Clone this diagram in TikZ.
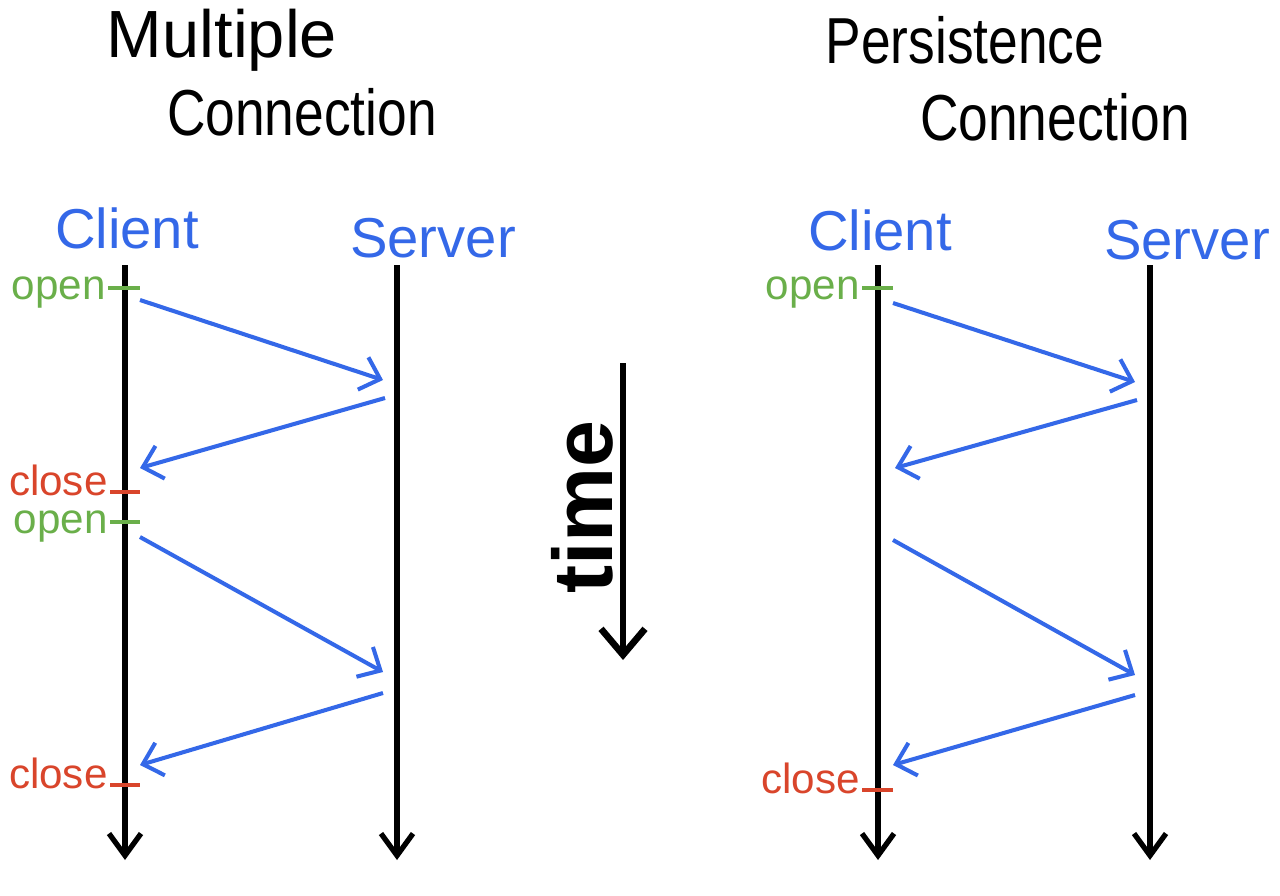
\documentclass[tikz,border=0pt]{standalone}
\usepackage{fontspec}
\setmainfont{Liberation Sans}
\newfontfamily\narrowfont[FakeStretch=0.82]{Liberation Sans}
\usetikzlibrary{arrows.meta}
\definecolor{msgblue}{RGB}{52,104,232}
\definecolor{opengreen}{RGB}{106,175,74}
\definecolor{closered}{RGB}{217,69,43}

\begin{document}
\begin{tikzpicture}[
		lifeline/.style={line width=1.5pt, -{Straight Barb[length=2.2mm, width=3.2mm, line width=1.5pt]}},
		msg/.style={draw=msgblue, line width=1.15pt, -{Straight Barb[length=1.8mm, width=3.4mm, line width=1.15pt]}},
		title/.style={font=\narrowfont\fontsize{18.5}{22}\selectfont},
		party/.style={text=msgblue, font=\fontsize{16}{19}\selectfont},
		tick/.style={line width=1.15pt},
		evlabel/.style={anchor=mid east, inner sep=0.5pt, font=\fontsize{12}{14}\selectfont},
		openlabel/.style={evlabel, text=opengreen, yshift=-0.5pt},
		closelabel/.style={evlabel, text=closered, yshift=1.6pt}
	]
		\useasboundingbox (0,0) rectangle (12.8,-8.95);

		% Titles
		\node[font=\fontsize{19}{22}\selectfont] (ttl1) at (2.22,-0.40) {Multiple};
		\node[title] (ttl2) at (3.02,-1.12) {Connection};
		\node[title] (ttr1) at (9.65,-0.40) {Persistence};
		\node[title] (ttr2) at (10.55,-1.17) {Connection};

		% Parties
		\node[party] (clientL) at (1.27,-2.28) {Client};
		\node[party] (serverL) at (4.33,-2.38) {Server};
		\node[party] (clientR) at (8.80,-2.30) {Client};
		\node[party] (serverR) at (11.87,-2.40) {Server};

		% Lifelines
		\coordinate (cLtop) at (1.25,-2.65);
		\coordinate (cLbot) at (1.25,-8.60);
		\coordinate (sLtop) at (3.97,-2.65);
		\coordinate (sLbot) at (3.97,-8.60);
		\coordinate (cRtop) at (8.78,-2.65);
		\coordinate (cRbot) at (8.78,-8.60);
		\coordinate (sRtop) at (11.50,-2.65);
		\coordinate (sRbot) at (11.50,-8.60);
		\draw[lifeline] (cLtop) -- (cLbot);
		\draw[lifeline] (sLtop) -- (sLbot);
		\draw[lifeline] (cRtop) -- (cRbot);
		\draw[lifeline] (sRtop) -- (sRbot);

		% Time
		\coordinate (ttop) at (6.23,-3.63);
		\coordinate (tbot) at (6.23,-6.60);
		\draw[line width=1.9pt, -{Straight Barb[length=2.6mm, width=4.4mm, line width=1.9pt]}] (ttop) -- (tbot);
		\node[rotate=90, font=\bfseries\fontsize{24}{28}\selectfont] (time) at (5.82,-5.07) {time};

		% Events, left
		\coordinate (oL1a) at (1.08,-2.88); \coordinate (oL1b) at (1.40,-2.88);
		\coordinate (cL1a) at (1.10,-4.92); \coordinate (cL1b) at (1.40,-4.92);
		\coordinate (oL2a) at (1.10,-5.22); \coordinate (oL2b) at (1.40,-5.22);
		\coordinate (cL2a) at (1.10,-7.85); \coordinate (cL2b) at (1.40,-7.85);
		\draw[tick, opengreen] (oL1a) -- (oL1b);
		\draw[tick, closered] (cL1a) -- (cL1b);
		\draw[tick, opengreen] (oL2a) -- (oL2b);
		\draw[tick, closered] (cL2a) -- (cL2b);
		\node[openlabel] (openL1) at (oL1a) {open};
		\node[closelabel] (closeL1) at (cL1a) {close};
		\node[openlabel] (openL2) at (oL2a) {open};
		\node[closelabel] (closeL2) at (cL2a) {close};

		% Events, right
		\coordinate (oR1a) at (8.62,-2.88); \coordinate (oR1b) at (8.93,-2.88);
		\coordinate (cR1a) at (8.62,-7.90); \coordinate (cR1b) at (8.93,-7.90);
		\draw[tick, opengreen] (oR1a) -- (oR1b);
		\draw[tick, closered] (cR1a) -- (cR1b);
		\node[openlabel] (openR1) at (oR1a) {open};
		\node[closelabel] (closeR1) at (cR1a) {close};

		% Messages, left
		\coordinate (mL1a) at (1.40,-3.00); \coordinate (mL1b) at (3.83,-3.80);
		\coordinate (mL2a) at (3.85,-3.98); \coordinate (mL2b) at (1.40,-4.68);
		\coordinate (mL3a) at (1.40,-5.37); \coordinate (mL3b) at (3.83,-6.72);
		\coordinate (mL4a) at (3.83,-6.93); \coordinate (mL4b) at (1.40,-7.65);
		\draw[msg] (mL1a) -- (mL1b);
		\draw[msg] (mL2a) -- (mL2b);
		\draw[msg] (mL3a) -- (mL3b);
		\draw[msg] (mL4a) -- (mL4b);

		% Messages, right
		\coordinate (mR1a) at (8.93,-3.03); \coordinate (mR1b) at (11.35,-3.82);
		\coordinate (mR2a) at (11.37,-4.00); \coordinate (mR2b) at (8.95,-4.68);
		\coordinate (mR3a) at (8.93,-5.40); \coordinate (mR3b) at (11.35,-6.75);
		\coordinate (mR4a) at (11.35,-6.95); \coordinate (mR4b) at (8.93,-7.65);
		\draw[msg] (mR1a) -- (mR1b);
		\draw[msg] (mR2a) -- (mR2b);
		\draw[msg] (mR3a) -- (mR3b);
		\draw[msg] (mR4a) -- (mR4b);
	\end{tikzpicture}
\end{document}
